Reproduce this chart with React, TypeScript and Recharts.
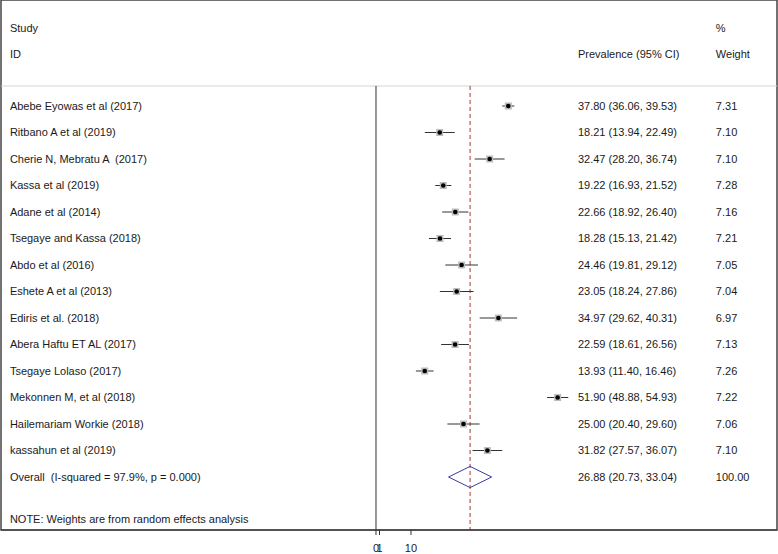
import { ErrorBar, ReferenceArea, ReferenceLine, Scatter, ScatterChart, XAxis, YAxis } from "recharts";

const STUDIES = [
  "Abebe Eyowas et al (2017)",
  "Ritbano A et al (2019)",
  "Cherie N, Mebratu A  (2017)",
  "Kassa et al (2019)",
  "Adane et al (2014)",
  "Tsegaye and Kassa (2018)",
  "Abdo et al (2016)",
  "Eshete A et al (2013)",
  "Ediris et al. (2018)",
  "Abera Haftu ET AL (2017)",
  "Tsegaye Lolaso (2017)",
  "Mekonnen M, et al (2018)",
  "Hailemariam Workie (2018)",
  "kassahun et al (2019)",
];
const PREV = [37.8, 18.21, 32.47, 19.22, 22.66, 18.28, 24.46, 23.05, 34.97, 22.59, 13.93, 51.9, 25.0, 31.82];
const LOWER = [36.06, 13.94, 28.2, 16.93, 18.92, 15.13, 19.81, 18.24, 29.62, 18.61, 11.4, 48.88, 20.4, 27.57];
const UPPER = [39.53, 22.49, 36.74, 21.52, 26.4, 21.42, 29.12, 27.86, 40.31, 26.56, 16.46, 54.93, 29.6, 36.07];
const WEIGHTS = [7.31, 7.1, 7.1, 7.28, 7.16, 7.21, 7.05, 7.04, 6.97, 7.13, 7.26, 7.22, 7.06, 7.1];

const OVERALL_LABEL = "Overall  (I-squared = 97.9%, p = 0.000)";
const OVERALL_EST = 26.88;
const OVERALL_LO = 20.73;
const OVERALL_HI = 33.04;
const OVERALL_WEIGHT = "100.00";
const NOTE = "NOTE: Weights are from random effects analysis";
const X_TICKS = [0, 1, 10];

// layout (data units)
const X_MIN = -107.14;
const X_MAX = 114.57;
const Y_MIN = -4;
const Y_MAX = 16;
const COL_STUDY = -104.6;
const COL_PREV = 57.7;
const COL_WEIGHT = 97.1;
const ROW_HEAD1 = -2.94;
const ROW_HEAD2 = -1.96;
const ROW_RULE = -0.755;
const ROW_OVERALL = STUDIES.length;
const ROW_NOTE = 15.58;

const FONT = "'Liberation Sans', Arial, Helvetica, sans-serif";
const fmt = (v: number) => v.toFixed(2);

const studyData = STUDIES.map((s, i) => ({
  x: PREV[i],
  y: i,
  w: WEIGHTS[i],
  err: [PREV[i] - LOWER[i], UPPER[i] - PREV[i]],
}));

const labels: { x: number; y: number; text: string }[] = [
  { x: COL_STUDY, y: ROW_HEAD1, text: "Study" },
  { x: COL_WEIGHT, y: ROW_HEAD1, text: "%" },
  { x: COL_STUDY, y: ROW_HEAD2, text: "ID" },
  { x: COL_PREV, y: ROW_HEAD2, text: "Prevalence (95% CI)" },
  { x: COL_WEIGHT, y: ROW_HEAD2, text: "Weight" },
  ...STUDIES.flatMap((s, i) => [
    { x: COL_STUDY, y: i, text: s },
    { x: COL_PREV, y: i, text: `${fmt(PREV[i])} (${fmt(LOWER[i])}, ${fmt(UPPER[i])})` },
    { x: COL_WEIGHT, y: i, text: fmt(WEIGHTS[i]) },
  ]),
  { x: COL_STUDY, y: ROW_OVERALL, text: OVERALL_LABEL },
  { x: COL_PREV, y: ROW_OVERALL, text: `${fmt(OVERALL_EST)} (${fmt(OVERALL_LO)}, ${fmt(OVERALL_HI)})` },
  { x: COL_WEIGHT, y: ROW_OVERALL, text: OVERALL_WEIGHT },
  { x: COL_STUDY, y: ROW_NOTE, text: NOTE },
];

const diamond = [
  { x: OVERALL_LO, y: ROW_OVERALL },
  { x: OVERALL_EST, y: ROW_OVERALL - 0.4 },
  { x: OVERALL_HI, y: ROW_OVERALL },
  { x: OVERALL_EST, y: ROW_OVERALL + 0.4 },
  { x: OVERALL_LO, y: ROW_OVERALL },
];

function Marker(p: any) {
  const s = 7 * Math.sqrt(p.payload.w / 7.2);
  return (
    <g>
      <rect x={p.cx - s / 2} y={p.cy - s / 2} width={s} height={s} fill="#bcbcbc" />
      <circle cx={p.cx} cy={p.cy} r={2.3} fill="#000" />
    </g>
  );
}

function Label(p: any) {
  return (
    <text
      x={p.cx}
      y={p.cy}
      dy="0.35em"
      fontSize={11}
      fontFamily={FONT}
      fill="#1a1a1a"
      style={{ whiteSpace: "pre" }}
    >
      {p.payload.text}
    </text>
  );
}

export default function App() {
  return (
    <div>
      <style>{"body{margin:0}"}</style>
      <ScatterChart width={778} height={554} margin={{ top: 0, right: 1, bottom: 0, left: 1 }}>
        <XAxis
          type="number"
          dataKey="x"
          domain={[X_MIN, X_MAX]}
          allowDataOverflow
          ticks={X_TICKS}
          interval={0}
          height={24}
          tickSize={5}
          tickMargin={9}
          axisLine={{ stroke: "#333" }}
          tickLine={{ stroke: "#333" }}
          tick={{ fill: "#1a1a1a", fontSize: 11, fontFamily: FONT }}
        />
        <YAxis type="number" dataKey="y" domain={[Y_MIN, Y_MAX]} allowDataOverflow reversed hide />
        <ReferenceArea x1={X_MIN} x2={X_MAX} y1={Y_MIN} y2={Y_MAX} fill="none" stroke="#444" strokeWidth={1.5} />
        <ReferenceLine y={ROW_RULE} stroke="#d4d4d4" strokeWidth={1} />
        <ReferenceLine
          segment={[{ x: 0, y: ROW_RULE }, { x: 0, y: Y_MAX }]}
          stroke="#333"
          strokeWidth={1}
        />
        <ReferenceLine
          segment={[{ x: OVERALL_EST, y: ROW_RULE }, { x: OVERALL_EST, y: Y_MAX }]}
          stroke="#a0393c"
          strokeDasharray="4 3"
          strokeWidth={1}
        />
        <Scatter data={labels} shape={Label} isAnimationActive={false} />
        <Scatter
          data={diamond}
          line={{ stroke: "#3a3aa0", strokeWidth: 1 }}
          lineType="joint"
          shape={() => <g />}
          isAnimationActive={false}
        />
        <Scatter data={studyData} shape={Marker} isAnimationActive={false}>
          <ErrorBar dataKey="err" direction="x" width={0} stroke="#333" strokeWidth={1} />
        </Scatter>
      </ScatterChart>
    </div>
  );
}
